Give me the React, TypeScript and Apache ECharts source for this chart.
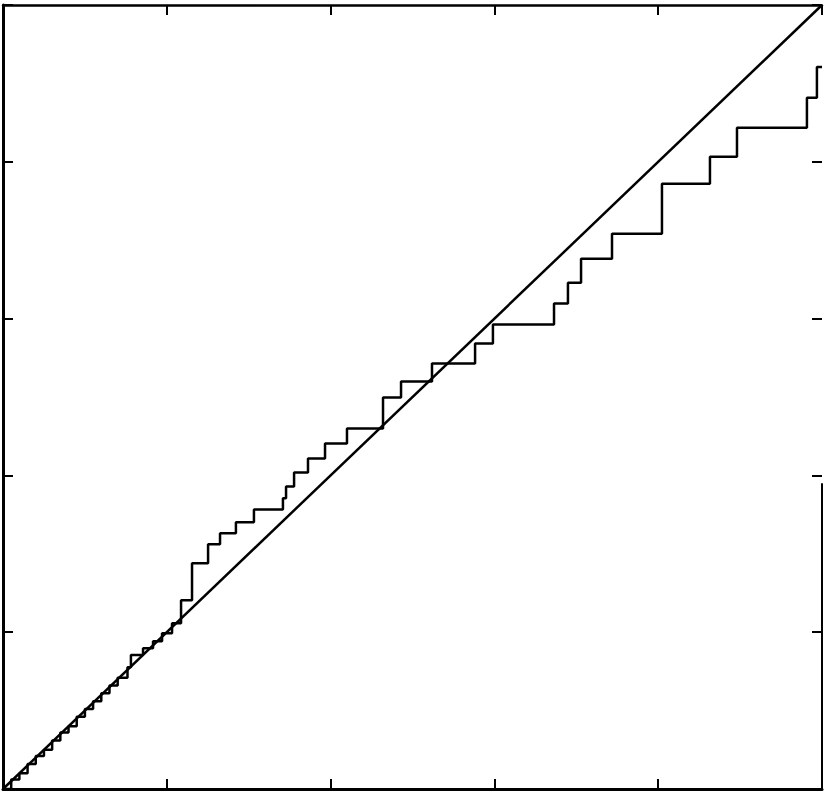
import React, { useEffect, useRef } from "react";
import * as echarts from "echarts";

// Axis range (both axes: five equal divisions, no labels)
const axisMin = 0;
const axisMax = 5;
const axisInterval = 1;

// Reference diagonal (y = x)
const diagonalX = [0, 5];
const diagonalY = [0, 5];

// Visible part of the right-hand frame edge (in y data units; the scan loses the upper part)
const rightEdgeY = [0, 1.95];

// Step function: x positions of the jumps and the level reached after each jump
const jumpX = [
  0.05, 0.1, 0.15, 0.2, 0.25, 0.3, 0.35, 0.4, 0.45, 0.5, 0.55, 0.6, 0.65, 0.7, 0.76,
  0.781, 0.855, 0.916, 0.971, 1.032, 1.087, 1.154, 1.252, 1.325, 1.422, 1.532,
  1.709, 1.728, 1.777, 1.862, 1.966, 2.1, 2.32, 2.43, 2.619, 2.882, 2.991,
  3.364, 3.449, 3.529, 3.718, 4.023, 4.316, 4.481, 4.908, 4.969,
];
const jumpLevel = [
  0.06, 0.1, 0.16, 0.21, 0.25, 0.31, 0.36, 0.4, 0.46, 0.51, 0.56, 0.61, 0.66, 0.71, 0.777,
  0.854, 0.898, 0.943, 0.994, 1.057, 1.204, 1.439, 1.561, 1.631, 1.701, 1.783,
  1.854, 1.93, 2.019, 2.108, 2.204, 2.299, 2.497, 2.599, 2.713, 2.841, 2.962,
  3.096, 3.229, 3.382, 3.541, 3.86, 4.032, 4.217, 4.408, 4.605,
];
const stepStart = [0, 0];
const stepEndX = 5;

function buildStepPoints(): number[][] {
  const pts: number[][] = [stepStart];
  let prev = stepStart[1];
  for (let i = 0; i < jumpX.length; i++) {
    pts.push([jumpX[i], prev]);
    pts.push([jumpX[i], jumpLevel[i]]);
    prev = jumpLevel[i];
  }
  pts.push([stepEndX, prev]);
  return pts;
}

export default function App() {
  const ref = useRef<HTMLDivElement>(null);
  useEffect(() => {
    if (!ref.current) return;
    const chart = echarts.init(ref.current, null, { renderer: "svg" });
    const axisCommon = {
      type: "value" as const,
      min: axisMin,
      max: axisMax,
      interval: axisInterval,
      axisLabel: { show: false },
      splitLine: { show: false },
      axisTick: { show: true, inside: true, length: 10, lineStyle: { color: "#000", width: 2 } },
    };
    chart.setOption({
      animation: false,
      backgroundColor: "#fff",
      grid: { left: 3, right: 2, top: 5, bottom: 6, containLabel: false },
      xAxis: [
        { ...axisCommon, position: "bottom", axisLine: { show: true, onZero: false, lineStyle: { color: "#000", width: 3 } } },
        { ...axisCommon, position: "top", axisLine: { show: true, onZero: false, lineStyle: { color: "#000", width: 2.5 } } },
      ],
      yAxis: [
        { ...axisCommon, position: "left", axisLine: { show: true, onZero: false, lineStyle: { color: "#000", width: 3 } } },
        {
          ...axisCommon,
          position: "right",
          axisLine: { show: true, onZero: false, lineStyle: { color: "rgba(0,0,0,0)", width: 1 } },
          axisTick: { show: true, inside: true, length: 10, lineStyle: { color: "#000", width: 2 } },
        },
      ],
      series: [
        {
          type: "line",
          data: diagonalX.map((x, i) => [x, diagonalY[i]]),
          showSymbol: false,
          lineStyle: { color: "#000", width: 2.5 },
          silent: true,
        },
        {
          type: "line",
          data: buildStepPoints(),
          showSymbol: false,
          lineStyle: { color: "#000", width: 2.5 },
          silent: true,
        },
      ],
    });
    const p0 = chart.convertToPixel({ gridIndex: 0 }, [axisMax, rightEdgeY[0]]) as number[];
    const p1 = chart.convertToPixel({ gridIndex: 0 }, [axisMax, rightEdgeY[1]]) as number[];
    chart.setOption({
      graphic: [
        {
          type: "line",
          shape: { x1: p0[0], y1: p0[1], x2: p1[0], y2: p1[1] },
          style: { stroke: "#000", lineWidth: 2 },
          silent: true,
        },
      ],
    });
    return () => chart.dispose();
  }, []);
  return (
    <div
      ref={ref}
      style={{ position: "fixed", left: 0, top: 0, width: 824, height: 795, background: "#fff" }}
    />
  );
}
